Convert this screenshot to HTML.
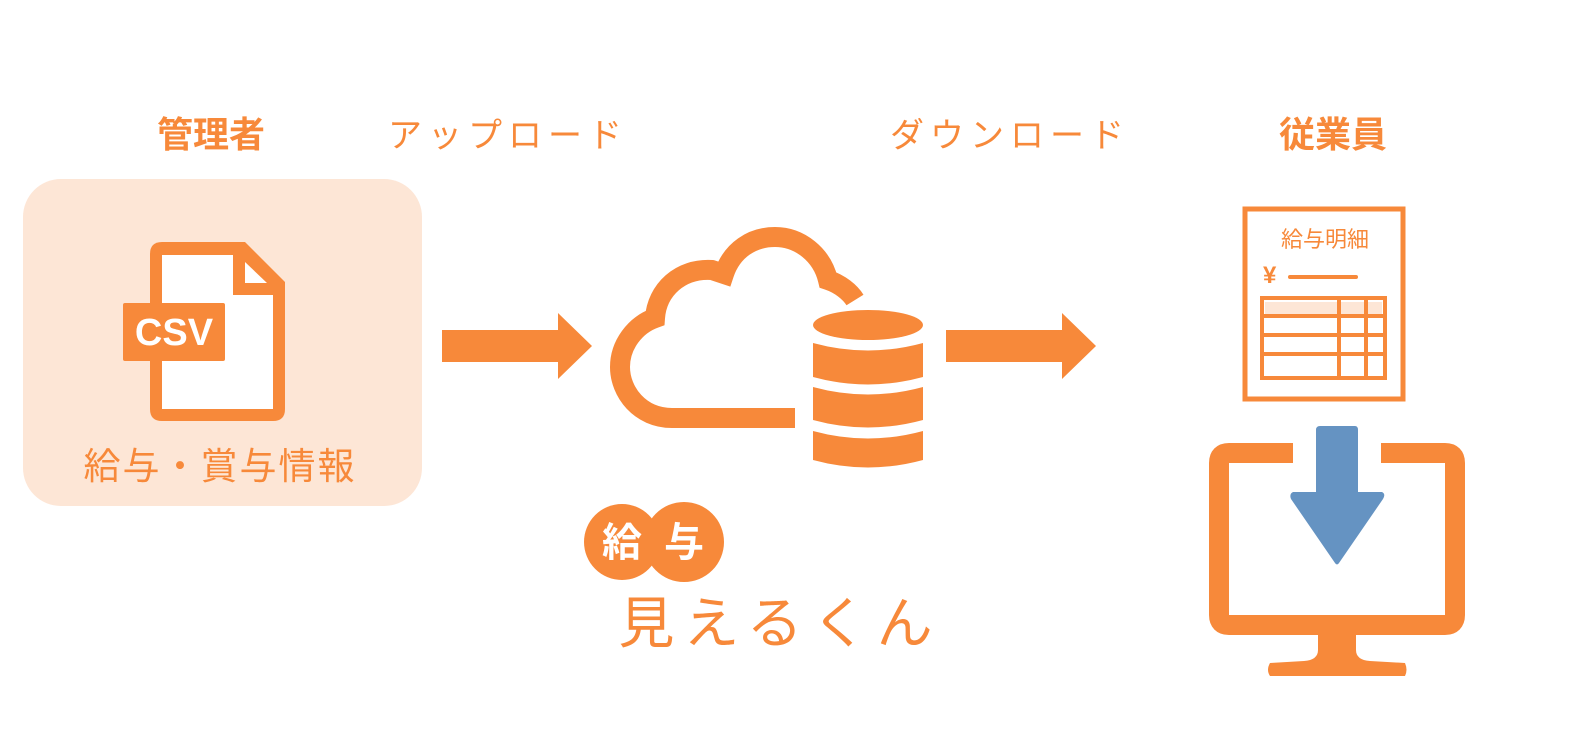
<!DOCTYPE html>
<html><head><meta charset="utf-8"><style>
html,body{margin:0;padding:0;background:#fff;}
svg{display:block;}
text{font-family:"Liberation Sans","Noto Sans CJK JP",sans-serif;}
</style></head><body>
<svg width="1578" height="755" viewBox="0 0 1578 755" xmlns="http://www.w3.org/2000/svg">
<g fill="#f7893a">
<text x="211" y="147" font-size="36" font-weight="bold" text-anchor="middle">管理者</text>
<text x="508" y="147" font-size="34" text-anchor="middle" letter-spacing="6">アップロード</text>
<text x="1010" y="147" font-size="34" text-anchor="middle" letter-spacing="6">ダウンロード</text>
<text x="1333" y="147" font-size="36" font-weight="bold" text-anchor="middle">従業員</text>
</g>
<rect x="23" y="179" width="399" height="327" rx="38" fill="#fde6d6"/>
<path d="M150,254 Q150,242 162,242 H245 L285,282 V409 Q285,421 273,421 H162 Q150,421 150,409 Z" fill="#f7893a"/>
<path d="M162,255 H233 V295 H273 V409 H162 Z" fill="#fff"/>
<path d="M245,262 L267,283 H245 Z" fill="#fff"/>
<rect x="123" y="303" width="102" height="58" rx="2" fill="#f7893a"/>
<text x="174" y="345" font-size="38" font-weight="bold" fill="#fff" text-anchor="middle">CSV</text>
<text x="220" y="479" font-size="37" fill="#f7893a" text-anchor="middle" letter-spacing="2">給与・賞与情報</text>
<path d="M442,330 H558 V313 L592,346 L558,379 V362 H442 Z" fill="#f7893a"/>
<path d="M946,330 H1062 V313 L1096,346 L1062,379 V362 H946 Z" fill="#f7893a"/>
<path d="M795,418 H672 C640,418 620,392 620,367 C620,345 635,325 655,318 C657,290 680,268 712,270 L724,274 C732,250 752,237 775,237 C800,237 822,255 828,280 C840,284 850,292 855,300" fill="none" stroke="#f7893a" stroke-width="20"/>
<g fill="#f7893a">
<ellipse cx="868" cy="325" rx="55" ry="15"/>
<path d="M813,343 Q868,358 923,343 V377 Q868,392 813,377 Z"/>
<path d="M813,387 Q868,402 923,387 V420 Q868,435 813,420 Z"/>
<path d="M813,431 Q868,446 923,431 V460 Q868,475 813,460 Z"/>
</g>
<circle cx="622" cy="542" r="38" fill="#f7893a"/>
<circle cx="684" cy="542" r="40" fill="#f7893a"/>
<text x="622" y="556" font-size="40" font-weight="bold" fill="#fff" text-anchor="middle">給</text>
<text x="684" y="556" font-size="40" font-weight="bold" fill="#fff" text-anchor="middle">与</text>
<text x="780" y="643" font-size="56" fill="#f7893a" text-anchor="middle" letter-spacing="9">見えるくん</text>
<rect x="1245" y="209" width="158" height="190" fill="#fff" stroke="#f7893a" stroke-width="5"/>
<text x="1325" y="247" font-size="22" fill="#f7893a" text-anchor="middle">給与明細</text>
<text x="1263" y="283" font-size="24" font-weight="bold" fill="#f7893a">¥</text>
<line x1="1290" y1="277" x2="1356" y2="277" stroke="#f7893a" stroke-width="4" stroke-linecap="round"/>
<rect x="1262" y="298" width="123" height="80" fill="#fff" stroke="#f7893a" stroke-width="4"/>
<rect x="1265" y="302" width="117" height="12" fill="#fde6d6"/>
<g stroke="#f7893a" stroke-width="4">
<line x1="1262" y1="316" x2="1385" y2="316"/>
<line x1="1262" y1="335" x2="1385" y2="335"/>
<line x1="1262" y1="354" x2="1385" y2="354"/>
<line x1="1339" y1="298" x2="1339" y2="378"/>
<line x1="1366" y1="298" x2="1366" y2="378"/>
</g>
<path d="M1293,453 H1229 Q1219,453 1219,463 V615 Q1219,625 1229,625 H1445 Q1455,625 1455,615 V463 Q1455,453 1445,453 H1381" fill="none" stroke="#f7893a" stroke-width="20"/>
<path d="M1318,634 H1356 V650 Q1356,660 1370,661 L1405,663 Q1408,670 1405,676 H1270 Q1266,670 1270,663 L1304,661 Q1318,660 1318,650 Z" fill="#f7893a"/>
<path d="M1320,426 H1355 Q1358,426 1358,430 V492 H1382 Q1386,494 1383,499 L1339,563 Q1337,566 1335,563 L1291,499 Q1289,494 1293,492 H1316 V430 Q1316,426 1320,426 Z" fill="#6593c2"/>
</svg>
</body></html>
